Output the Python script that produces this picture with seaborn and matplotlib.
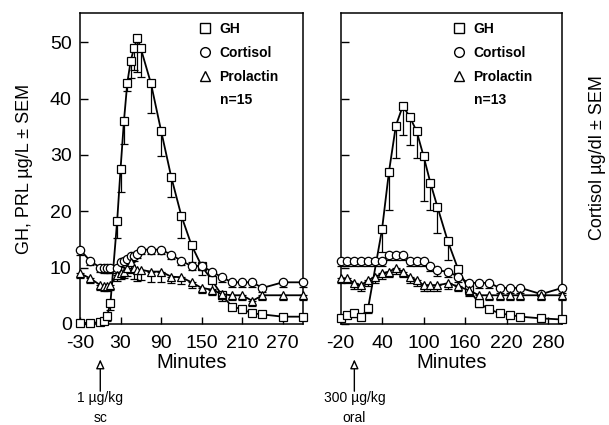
import numpy as np
import pandas as pd
import matplotlib
matplotlib.use("Agg")
import matplotlib.pyplot as plt
from matplotlib.lines import Line2D
import seaborn as sns

# ---------------- data ----------------
# Left panel (1 ug/kg sc, n=15)
left_time = [-30, -15, 0, 5, 10, 15, 25, 30, 35, 40, 45, 50, 55, 60, 75, 90, 105,
             120, 135, 150, 165, 180, 195, 210, 225, 240, 270, 300]
left_gh = [0.2, 0.2, 0.3, 0.6, 1.4, 3.7, 18.3, 27.5, 36.0, 42.8, 46.7, 49.0, 50.8, 48.9,
           42.7, 34.3, 26.1, 19.2, 14.0, 10.3, 7.8, 5.1, 3.1, 2.6, 1.9, 1.7, 1.3, 1.3]
left_gh_err = [0.2, 0.2, 0.2, 0.3, 0.8, 1.2, 3.1, 4.0, 4.0, 1.5, 3.0, 4.0, 6.0, 5.0,
               5.2, 4.5, 3.5, 4.0, 3.0, 1.6, 1.5, 1.0, 0.6, 0.5, 0.4, 0.4, 0.3, 0.3]
left_cort = [13.2, 11.2, 10.0, 9.9, 9.9, 9.9, 9.9, 11.0, 11.2, 11.5, 12.0, 12.0, 12.5, 13.2,
             13.2, 13.2, 12.3, 11.2, 10.3, 10.3, 9.3, 8.3, 7.4, 7.4, 7.4, 6.4, 7.4, 7.4]
left_cort_err = [1.0, 0.8, 0.8, 0.8, 0.8, 0.8, 0.8, 0.8, 0.8, 0.8, 0.8, 0.8, 0.8, 0.8,
                 0.8, 0.8, 0.8, 0.8, 0.8, 0.8, 0.8, 0.8, 0.8, 0.8, 0.8, 0.8, 0.8, 0.8]
left_prl = [9.0, 8.1, 6.9, 6.7, 6.7, 6.9, 8.7, 9.0, 9.3, 10.0, 11.0, 10.0, 9.6, 9.6,
            9.3, 9.3, 8.4, 8.3, 7.4, 6.4, 6.1, 5.3, 5.1, 5.1, 4.1, 5.1, 5.1, 5.1]
left_prl_err = [0.9, 0.9, 0.9, 0.9, 0.9, 0.9, 1.0, 1.0, 1.2, 1.5, 2.0, 2.0, 2.0, 1.8,
                1.8, 1.8, 1.2, 1.2, 1.0, 0.9, 0.9, 0.9, 0.9, 0.9, 0.9, 0.9, 0.9, 0.9]

# Right panel (300 ug/kg oral, n=13)
right_gh_time = [-20, -10, 0, 10, 20, 40, 50, 60, 70, 80, 90, 100, 110, 120, 135,
                 150, 165, 180, 195, 210, 225, 240, 270, 300]
right_gh = [1.0, 1.6, 1.9, 1.2, 2.9, 16.8, 27.0, 35.2, 38.7, 36.8, 34.2, 29.8, 25.0,
            20.8, 14.7, 9.7, 6.2, 3.7, 2.6, 1.9, 1.6, 1.3, 1.0, 0.8]
right_gh_err = [0.3, 0.5, 0.6, 0.4, 1.0, 4.0, 6.8, 5.7, 5.2, 5.0, 4.8, 8.0, 4.8, 4.6,
                3.4, 1.5, 1.2, 0.6, 0.5, 0.4, 0.3, 0.3, 0.3, 0.3]
right_time = [-20, -10, 0, 10, 20, 30, 40, 50, 60, 70, 80, 90, 100, 110, 120, 135,
              150, 165, 180, 195, 210, 225, 240, 270, 300]
right_cort = [11.2, 11.2, 11.2, 11.2, 11.2, 11.2, 11.2, 12.2, 12.2, 12.2, 11.2, 11.2,
              11.2, 10.3, 9.5, 9.3, 8.4, 7.3, 7.3, 7.3, 6.4, 6.4, 6.4, 5.3, 6.4]
right_cort_err = [0.9] * 25
right_prl = [8.1, 8.1, 7.2, 6.9, 7.8, 8.3, 9.0, 9.3, 9.9, 9.3, 8.3, 7.8, 6.9, 6.9,
             6.9, 7.2, 6.7, 6.0, 5.1, 5.1, 5.1, 5.1, 5.1, 5.1, 5.1]
right_prl_err = [0.9, 0.9, 0.9, 1.0, 1.0, 1.0, 1.0, 1.0, 1.0, 1.0, 1.0, 1.0, 1.0, 1.0,
                 1.0, 0.9, 0.9, 0.9, 0.9, 0.9, 0.9, 0.9, 0.9, 0.9, 0.9]

hormones = ["GH", "Cortisol", "Prolactin"]
left_xticks = [-30, 30, 90, 150, 210, 270]
right_xticks = [-20, 40, 100, 160, 220, 280]
yticks = [0, 10, 20, 30, 40, 50]

# ---------------- style ----------------
sns.set_style("ticks")
plt.rcParams["font.family"] = ["Liberation Sans", "DejaVu Sans"]
plt.rcParams["axes.unicode_minus"] = False
for k in ["text.color", "axes.labelcolor", "xtick.color", "ytick.color", "axes.edgecolor"]:
    plt.rcParams[k] = "black"

fig = plt.figure(figsize=(6.09, 4.25), dpi=100)
W, H = 609.0, 425.0
ax1 = fig.add_axes([80 / W, (H - 324) / H, 223 / W, 311 / H])
ax2 = fig.add_axes([340.5 / W, (H - 324) / H, 221.5 / W, 311 / H])

markers = {"GH": "s", "Cortisol": "o", "Prolactin": "^"}
msize = {"GH": 6.0, "Cortisol": 6.0, "Prolactin": 6.0}


def panel(ax, series, xlim, xticks, ylabel_on, ntext, dose_lines, lx, nx):
    frames = []
    for name, (t, v, e) in series.items():
        frames.append(pd.DataFrame({"Minutes": t, "value": v, "err": e, "hormone": name}))
    df = pd.concat(frames, ignore_index=True)
    for name in hormones:
        d = df[df.hormone == name]
        ax.errorbar(d["Minutes"], d["value"], yerr=[d["err"], np.zeros(len(d))],
                    fmt="none", ecolor="black", elinewidth=0.9, capsize=3,
                    capthick=0.9, zorder=1.5, clip_on=False)
        sns.lineplot(data=d, x="Minutes", y="value", ax=ax, color="black",
                     marker=markers[name], markersize=msize[name],
                     markerfacecolor="white", markeredgecolor="black",
                     markeredgewidth=0.9, linewidth=1.3, legend=False, zorder=3,
                     clip_on=False)
    ax.set_xlim(*xlim)
    ax.set_ylim(0, 55.2)
    ax.set_xticks(xticks)
    ax.set_yticks(yticks)
    ax.tick_params(axis="x", direction="in", length=5, width=1, labelsize=14, pad=8)
    ax.tick_params(axis="y", direction="in", length=6, width=1, labelsize=14, pad=6,
                   labelleft=ylabel_on)
    for s in ax.spines.values():
        s.set_linewidth(1.1)
        s.set_color("black")
    ax.set_xlabel("Minutes", fontsize=14.5, labelpad=1)
    if ylabel_on:
        ax.set_ylabel("GH, PRL µg/L ± SEM", fontsize=13)
        ax.yaxis.set_label_coords(-0.21, 0.5)
    else:
        ax.set_ylabel("")
    handles = [Line2D([], [], linestyle="none", marker=markers[n], markersize=7,
                      markerfacecolor="white", markeredgecolor="black",
                      markeredgewidth=1.0) for n in hormones]
    ax.legend(handles, hormones, loc="upper left", bbox_to_anchor=(lx, 0.972),
              frameon=False, handlelength=1.0, handletextpad=0.5, labelspacing=0.72,
              borderpad=0, borderaxespad=0, prop={"weight": "bold", "size": 10})
    ax.text(nx, 0.72, ntext, transform=ax.transAxes, fontsize=10,
            fontweight="bold", ha="left", va="center")
    trans = ax.get_xaxis_transform()
    ax.annotate("", xy=(0, -0.105), xytext=(0, -0.225), xycoords=trans, textcoords=trans,
                arrowprops=dict(arrowstyle="-|>,head_width=0.25,head_length=0.55",
                                facecolor="white", edgecolor="black", lw=1.0),
                annotation_clip=False)
    ax.text(0, -0.238, dose_lines[0], transform=trans, ha="center", va="center", fontsize=10)
    ax.text(0, -0.302, dose_lines[1], transform=trans, ha="center", va="center", fontsize=10)


panel(ax1, {"GH": (left_time, left_gh, left_gh_err),
            "Cortisol": (left_time, left_cort, left_cort_err),
            "Prolactin": (left_time, left_prl, left_prl_err)},
      (-30, 300), left_xticks, True, "n=15", ("1 µg/kg", "sc"), 0.53, 0.628)
panel(ax2, {"GH": (right_gh_time, right_gh, right_gh_err),
            "Cortisol": (right_time, right_cort, right_cort_err),
            "Prolactin": (right_time, right_prl, right_prl_err)},
      (-20, 300), right_xticks, False, "n=13", ("300 µg/kg", "oral"), 0.505, 0.603)

fig.text(598 / W, (H - 158) / H, "Cortisol µg/dl ± SEM", rotation=90, ha="center",
         va="center", fontsize=13)

fig.savefig("out.png", dpi=100)
